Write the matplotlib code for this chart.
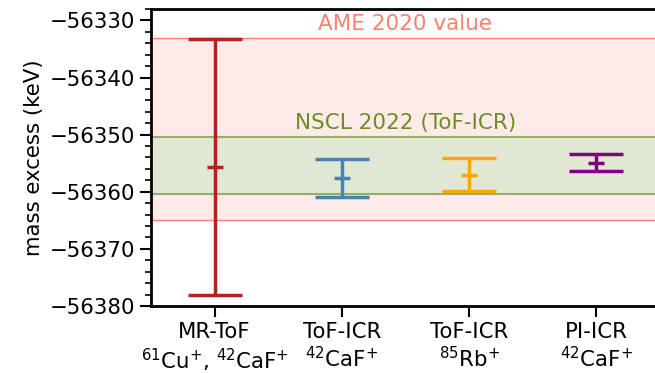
import numpy as np
import matplotlib
matplotlib.use('Agg')
import matplotlib.pyplot as plt
from matplotlib.ticker import MultipleLocator

# data
labels = ['MR-ToF\n$^{61}$Cu$^{+}$, $^{42}$CaF$^{+}$',
          'ToF-ICR\n$^{42}$CaF$^{+}$',
          'ToF-ICR\n$^{85}$Rb$^{+}$',
          'PI-ICR\n$^{42}$CaF$^{+}$']
values = [-56355.7, -56357.6, -56357.0, -56354.9]
errors = [22.4, 3.3, 2.9, 1.5]
colors = ['firebrick', 'steelblue', 'orange', 'purple']

ame_value = -56349.0
ame_err = 16.0
nscl_value = -56355.4
nscl_err = 5.0

plt.rcParams['font.size'] = 15.3

fig = plt.figure(figsize=(6.55, 3.73), dpi=100)
ax = fig.add_axes([0.2305, 0.1796, 0.777, 0.7963])

x = np.arange(len(values))

# reference bands
ax.axhspan(ame_value - ame_err, ame_value + ame_err, color='#ffeaea', lw=0, zorder=0)
ax.axhline(ame_value + ame_err, color='salmon', lw=1, zorder=1)
ax.axhline(ame_value - ame_err, color='salmon', lw=1, zorder=1)
ax.axhspan(nscl_value - nscl_err, nscl_value + nscl_err, color='#e0e8d4', lw=0, zorder=0.5)
ax.axhline(nscl_value + nscl_err, color='#98ad68', lw=1.5, zorder=1)
ax.axhline(nscl_value - nscl_err, color='#98ad68', lw=1.5, zorder=1)

ax.text(1.5, ame_value + ame_err + 0.7, 'AME 2020 value', color='salmon',
        ha='center', va='bottom', fontsize=15.5)
ax.text(1.5, nscl_value + nscl_err + 0.7, 'NSCL 2022 (ToF-ICR)', color='olivedrab',
        ha='center', va='bottom', fontsize=15.5)

for i in range(len(values)):
    ax.errorbar(x[i], values[i], yerr=errors[i], color=colors[i], fmt='_',
                markersize=12, markeredgewidth=2.5, elinewidth=2.5,
                capsize=19.5, capthick=2.5, zorder=3)

ax.set_xlim(-0.5, 3.5)
ax.set_ylim(-56380, -56328)
ax.set_xticks(x)
ax.set_xticklabels(labels)
ax.yaxis.set_major_locator(MultipleLocator(10))
ax.yaxis.set_minor_locator(MultipleLocator(2))
ax.tick_params(which='major', length=8, width=1.5)
ax.tick_params(which='minor', length=4.5, width=1.2)
ax.set_ylabel('mass excess (keV)')
for s in ax.spines.values():
    s.set_linewidth(2)

fig.savefig('out.png', dpi=100)
